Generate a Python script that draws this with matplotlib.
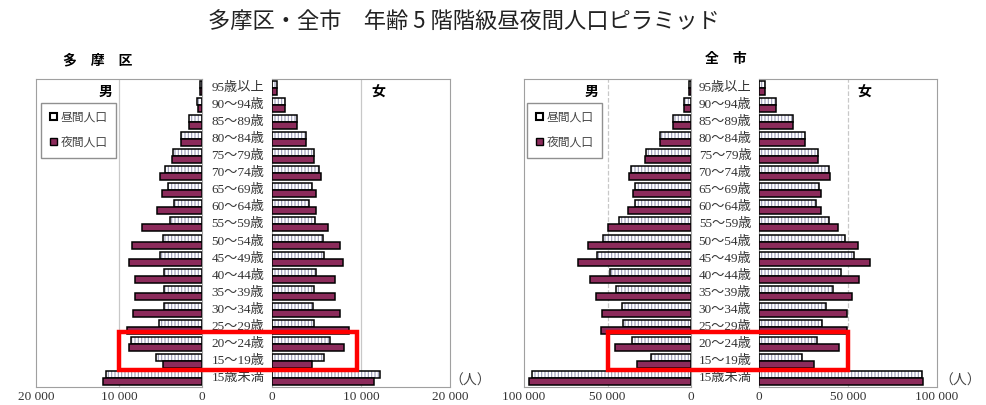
import matplotlib
matplotlib.use("Agg")
import matplotlib.pyplot as plt
import matplotlib.transforms as mtransforms
from matplotlib.patches import Patch, Rectangle
import numpy as np

plt.rcParams['font.family'] = ['Noto Sans CJK JP', 'DejaVu Sans']
plt.rcParams['hatch.linewidth'] = 0.8

# age classes, top of the pyramid first
ages = ['95歳以上', '90～94歳', '85～89歳', '80～84歳', '75～79歳', '70～74歳',
        '65～69歳', '60～64歳', '55～59歳', '50～54歳', '45～49歳', '40～44歳',
        '35～39歳', '30～34歳', '25～29歳', '20～24歳', '15～19歳', '15歳未満']

# 多摩区
tama_m_day = [300, 640, 1530, 2570, 3460, 4460, 4060, 3370, 3860, 4660, 5060, 4580,
              4580, 4580, 5140, 8590, 5540, 11570]
tama_m_night = [280, 520, 1600, 2570, 3650, 5060, 4860, 5390, 7270, 8470, 8800, 8070,
                8070, 8280, 9070, 8800, 4730, 11960]
tama_f_day = [520, 1420, 2780, 3840, 4670, 5270, 4520, 4140, 4820, 5720, 5800, 4970,
              4710, 4590, 4740, 6550, 5800, 12130]
tama_f_night = [520, 1420, 2780, 3840, 4740, 5530, 4890, 4970, 6330, 7600, 7980, 7040,
                7040, 7600, 8620, 8130, 4520, 11450]

# 全市
city_m_day = [1400, 4000, 10800, 18400, 27000, 36000, 33400, 33800, 43400, 52800, 56400,
              48400, 44800, 41400, 40800, 35400, 24000, 95000]
city_m_night = [1200, 4000, 10800, 18400, 27400, 37400, 35000, 37800, 50000, 61400, 67400,
                60400, 57000, 53400, 53800, 45400, 32400, 96800]
city_f_day = [3400, 9800, 19200, 26000, 33000, 39400, 33700, 32000, 39400, 48400, 53500,
              46300, 41600, 37700, 35600, 32800, 23900, 91300]
city_f_night = [3400, 9800, 19200, 26000, 33000, 40100, 34700, 34700, 44300, 55600, 62500,
                56000, 52400, 49700, 49700, 44800, 31100, 92300]

NIGHT = '#8c2b5b'
HATCH = '#9a9ab8'
SERIF = ['Liberation Serif', 'Noto Sans CJK JP']

W, H = 986, 405
fig = plt.figure(figsize=(W / 100, H / 100), dpi=100)


def box(x0, x1, y0=79, y1=387):
    return [x0 / W, 1 - y1 / H, (x1 - x0) / W, (y1 - y0) / H]


def side(rect, day, night, xmax, grid, male, sex_x, gridstyle):
    ax = fig.add_axes(rect)
    y = np.arange(len(ages))[::-1]
    h = 0.41
    ax.barh(y + h / 2, day, height=h, color='white', edgecolor=HATCH,
            hatch='|||||', linewidth=0, zorder=2)
    ax.barh(y + h / 2, day, height=h, color='none', edgecolor='black',
            linewidth=1.1, zorder=3)
    ax.barh(y - h / 2, night, height=h, color=NIGHT, edgecolor='black',
            linewidth=1.1, zorder=3)
    ax.axvline(grid, color='#c8c8c8', lw=0.9, ls=gridstyle, zorder=0)
    ax.set_ylim(-0.5, len(ages) - 0.5)
    if male:
        ax.set_xlim(xmax, 0)
    else:
        ax.set_xlim(0, xmax)
    ticks = [0, grid, xmax]
    ax.set_xticks(ticks)
    ax.set_xticklabels([f'{v:,}'.replace(',', ' ') for v in ticks],
                       family=SERIF, fontsize=9.5, color='#333333')
    ax.tick_params(axis='x', length=0, pad=3)
    ax.set_yticks([])
    for s in ax.spines.values():
        s.set_color('#a0a0a0')
        s.set_linewidth(0.8)
    ax.text(sex_x, 0.958, '男' if male else '女', transform=ax.transAxes,
            ha='center', va='center', fontsize=10, fontweight='bold')
    return ax


def legend(ax, x0):
    handles = [Patch(facecolor='white', edgecolor='black', lw=1.5),
               Patch(facecolor=NIGHT, edgecolor='black', lw=1.0)]
    ax.legend(handles, ['昼間人口', '夜間人口'], loc='upper left',
              bbox_to_anchor=(x0, 0.922), borderaxespad=0,
              prop={'family': SERIF, 'size': 8.5}, handlelength=0.6,
              handleheight=0.6, handletextpad=0.3, labelspacing=1.1,
              borderpad=0.75, fancybox=False, edgecolor='#909090',
              framealpha=1, labelcolor='#444444')


def age_labels(ax, xc):
    tr = mtransforms.blended_transform_factory(fig.transFigure, ax.transData)
    for i, a in enumerate(ages):
        ax.text(xc / W, len(ages) - 1 - i, a, transform=tr, ha='center',
                va='center', family=SERIF, fontsize=9.5, color='#333333',
                clip_on=False)


def red_box(axm, axf, xm, xf):
    inv = fig.transFigure.inverted()
    x0, y0 = inv.transform(axm.transData.transform((xm, 0.52)))
    x1, y1 = inv.transform(axf.transData.transform((xf, 2.72)))
    fig.add_artist(Rectangle((x0, y0), x1 - x0, y1 - y0, transform=fig.transFigure,
                             fill=False, edgecolor='#ff0000', linewidth=3.2,
                             zorder=10))


# 多摩区
am = side(box(36, 202), tama_m_day, tama_m_night, 20000, 10000, True, 0.416, '-')
af = side(box(272, 450), tama_f_day, tama_f_night, 20000, 10000, False, 0.60, '-')
legend(am, 0.03)
age_labels(am, 238)
red_box(am, af, 10000, 9500)

# 全市
bm = side(box(524, 691), city_m_day, city_m_night, 100000, 50000, True, 0.405, '--')
bf = side(box(759, 937), city_f_day, city_f_night, 100000, 50000, False, 0.59, '--')
legend(bm, 0.018)
age_labels(bm, 725)
red_box(bm, bf, 50000, 50000)

fig.text(464 / W, 1 - 21 / H, '多摩区・全市　年齢 5 階階級昼夜間人口ピラミッド',
         ha='center', va='center', fontsize=16, color='#222222')
fig.text(98 / W, 1 - 60 / H, '多　摩　区', ha='center', va='center',
         fontsize=10, fontweight='bold')
fig.text(726 / W, 1 - 59 / H, '全　市', ha='center', va='center',
         fontsize=10, fontweight='bold')
for xp in (470, 960):
    fig.text(xp / W, 1 - 381 / H, '（人）', ha='center', va='center',
             family=SERIF, fontsize=10, color='#444444')

fig.savefig('out.png', dpi=100, facecolor='white')
